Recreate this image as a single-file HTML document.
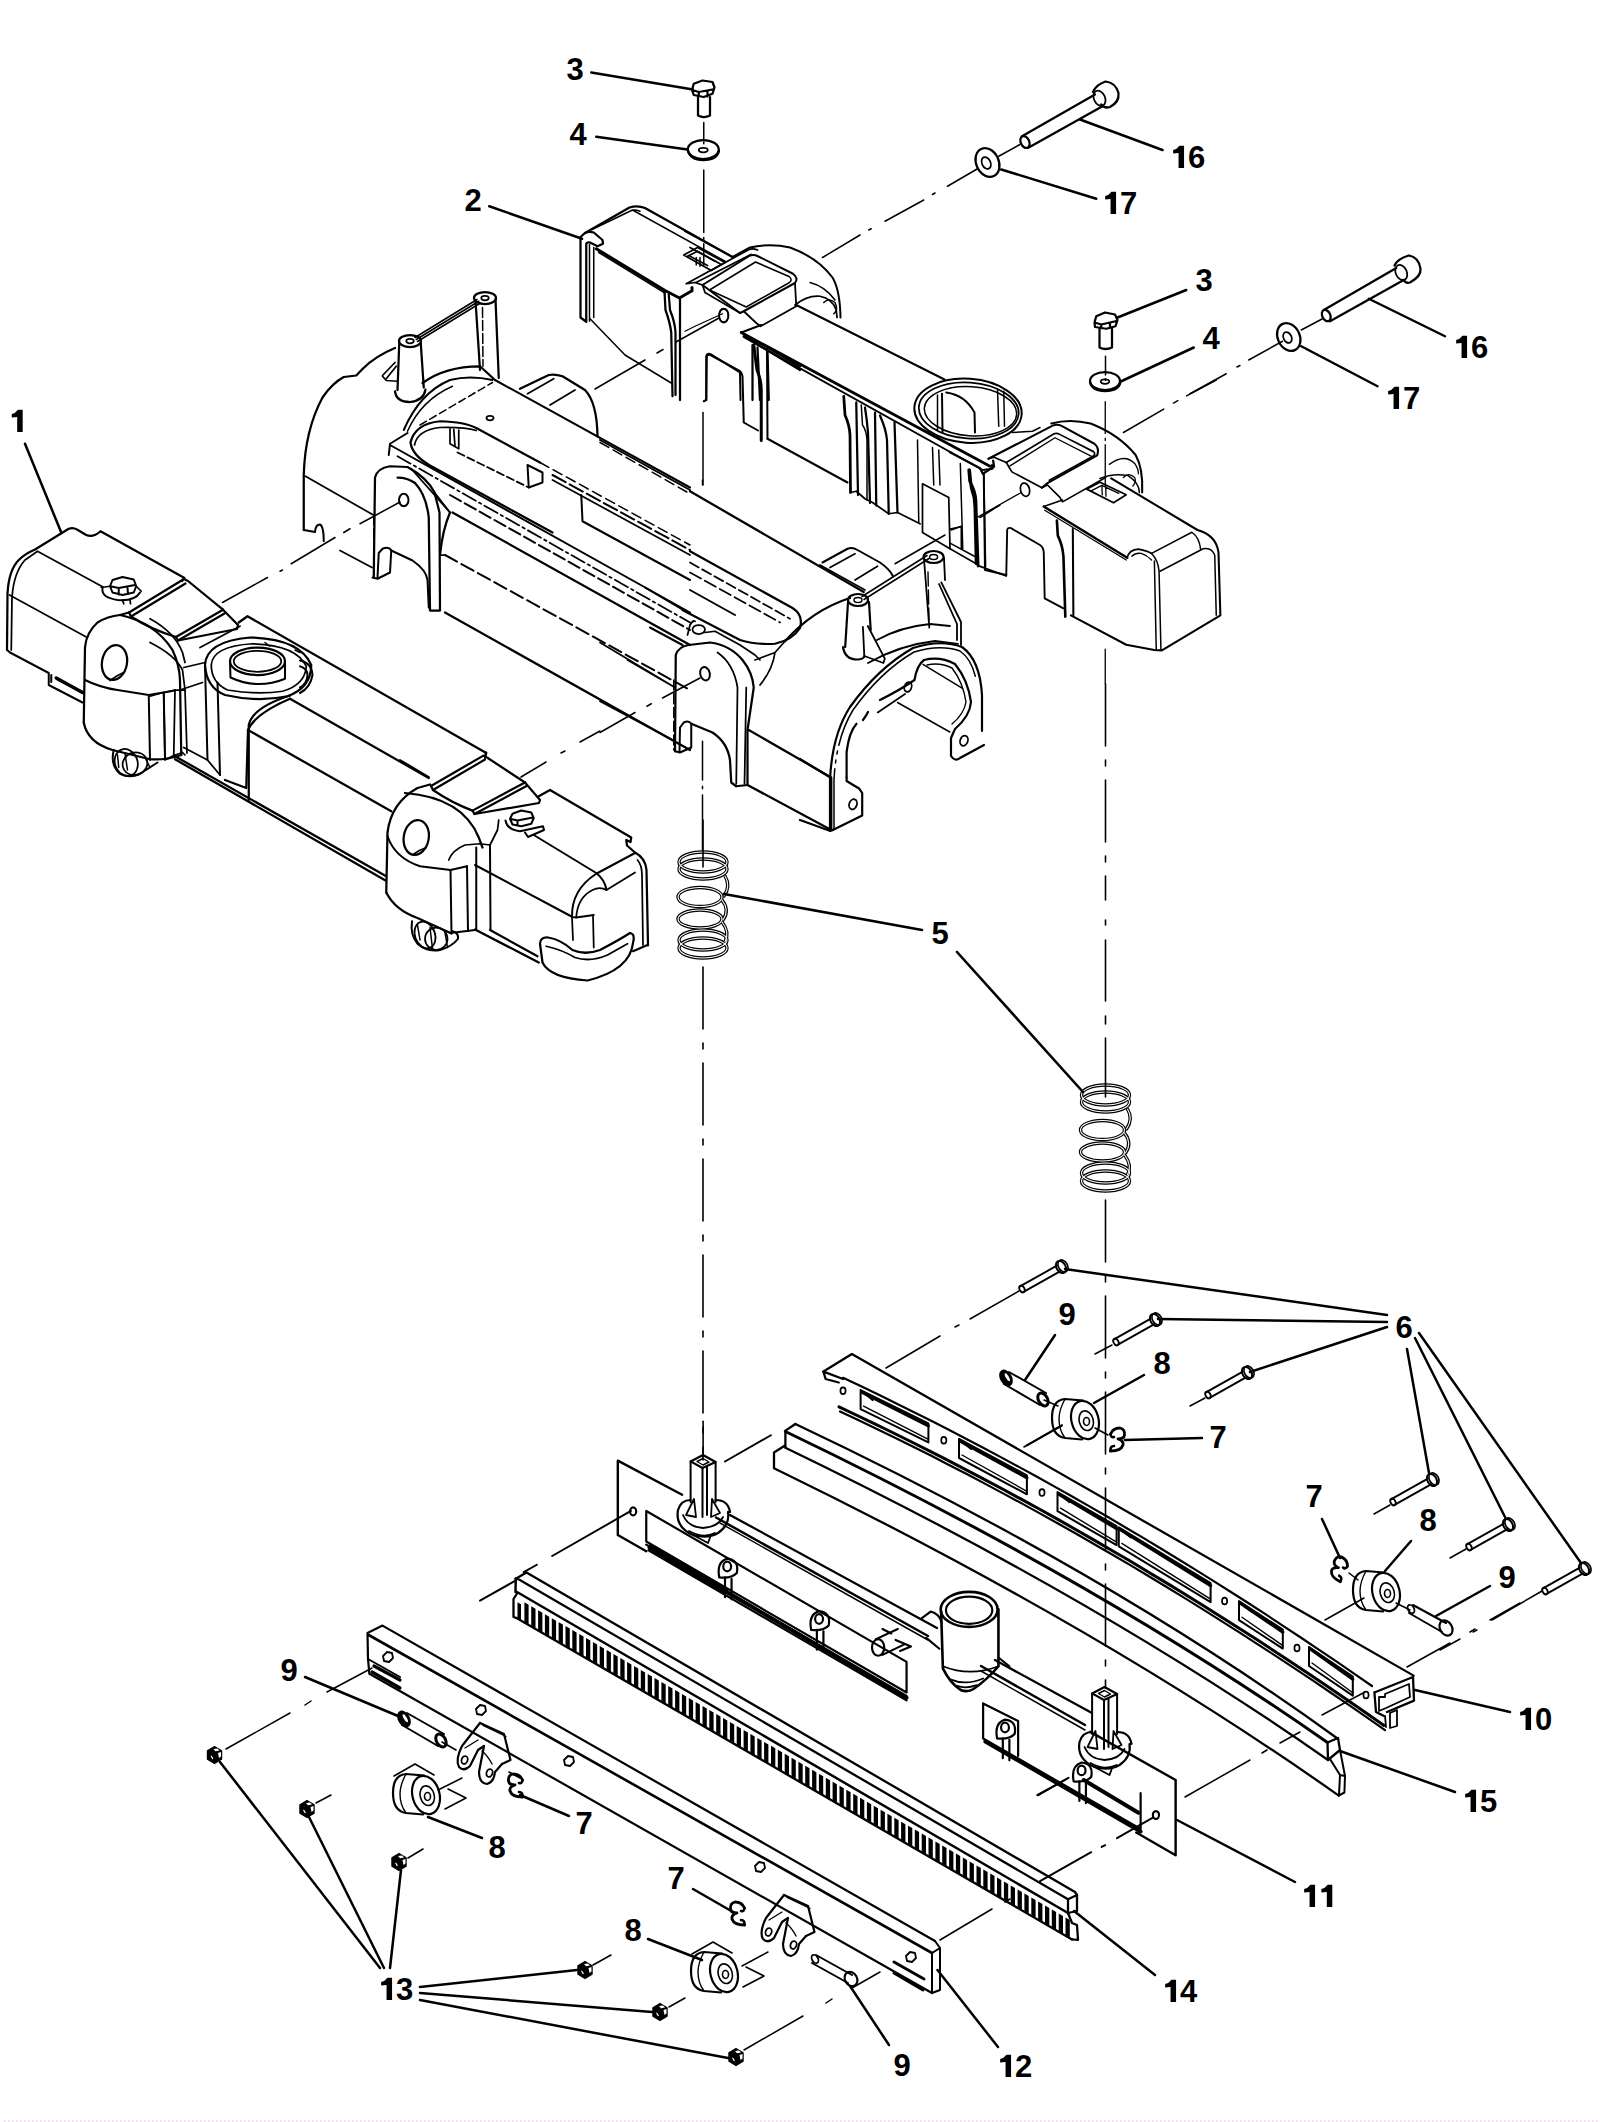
<!DOCTYPE html>
<html><head><meta charset="utf-8"><title>Parts diagram</title>
<style>
html,body{margin:0;padding:0;background:#fff;}
body{width:1600px;height:2122px;overflow:hidden;}
svg{display:block;}
.t{font-family:"Liberation Sans",sans-serif;font-weight:bold;font-size:30px;fill:#000;}
</style></head><body>
<svg width="1600" height="2122" viewBox="0 0 1600 2122" xmlns="http://www.w3.org/2000/svg">
<rect width="1600" height="2122" fill="#fff"/>
<g fill="none" stroke="#000" stroke-linejoin="round" stroke-linecap="round">
<!-- 00_labels.svg -->
<g class="t" stroke="none" fill="#000">
<text x="566.38" y="80.0" style="font-size:31px">3</text>
<text x="569.38" y="145.0" style="font-size:31px">4</text>
<text x="464.38" y="211.0" style="font-size:31px">2</text>
<path d="M1173.16,150.00 L1176.16,149.00 L1179.41,145.80 L1184.06,145.80 L1184.06,168.00 L1178.56,168.00 L1178.56,153.00 L1173.16,153.40 Z"/>
<text x="1188.00" y="168.0" style="font-size:31px">6</text>
<path d="M1105.16,196.00 L1108.16,195.00 L1111.41,191.80 L1116.06,191.80 L1116.06,214.00 L1110.56,214.00 L1110.56,199.00 L1105.16,199.40 Z"/>
<text x="1120.00" y="214.0" style="font-size:31px">7</text>
<text x="1195.38" y="291.0" style="font-size:31px">3</text>
<text x="1202.38" y="349.0" style="font-size:31px">4</text>
<path d="M1456.16,340.00 L1459.16,339.00 L1462.41,335.80 L1467.06,335.80 L1467.06,358.00 L1461.56,358.00 L1461.56,343.00 L1456.16,343.40 Z"/>
<text x="1471.00" y="358.0" style="font-size:31px">6</text>
<path d="M1388.16,391.00 L1391.16,390.00 L1394.41,386.80 L1399.06,386.80 L1399.06,409.00 L1393.56,409.00 L1393.56,394.00 L1388.16,394.40 Z"/>
<text x="1403.00" y="409.0" style="font-size:31px">7</text>
<path d="M11.78,414.00 L14.78,413.00 L18.03,409.80 L22.68,409.80 L22.68,432.00 L17.18,432.00 L17.18,417.00 L11.78,417.40 Z"/>
<text x="931.38" y="944.0" style="font-size:31px">5</text>
<text x="1058.38" y="1325.0" style="font-size:31px">9</text>
<text x="1153.38" y="1374.0" style="font-size:31px">8</text>
<text x="1209.38" y="1448.0" style="font-size:31px">7</text>
<text x="1305.38" y="1507.0" style="font-size:31px">7</text>
<text x="1419.38" y="1531.0" style="font-size:31px">8</text>
<text x="1498.38" y="1588.0" style="font-size:31px">9</text>
<path d="M1520.16,1712.00 L1523.16,1711.00 L1526.41,1707.80 L1531.06,1707.80 L1531.06,1730.00 L1525.56,1730.00 L1525.56,1715.00 L1520.16,1715.40 Z"/>
<text x="1535.00" y="1730.0" style="font-size:31px">0</text>
<text x="280.38" y="1681.0" style="font-size:31px">9</text>
<path d="M1465.16,1794.00 L1468.16,1793.00 L1471.41,1789.80 L1476.06,1789.80 L1476.06,1812.00 L1470.56,1812.00 L1470.56,1797.00 L1465.16,1797.40 Z"/>
<text x="1480.00" y="1812.0" style="font-size:31px">5</text>
<text x="575.38" y="1834.0" style="font-size:31px">7</text>
<text x="488.38" y="1858.0" style="font-size:31px">8</text>
<path d="M1304.16,1889.00 L1307.16,1888.00 L1310.41,1884.80 L1315.06,1884.80 L1315.06,1907.00 L1309.56,1907.00 L1309.56,1892.00 L1304.16,1892.40 Z"/>
<path d="M1321.40,1889.00 L1324.40,1888.00 L1327.65,1884.80 L1332.30,1884.80 L1332.30,1907.00 L1326.80,1907.00 L1326.80,1892.00 L1321.40,1892.40 Z"/>
<text x="667.38" y="1889.0" style="font-size:31px">7</text>
<text x="624.38" y="1941.0" style="font-size:31px">8</text>
<path d="M381.16,1982.00 L384.16,1981.00 L387.41,1977.80 L392.06,1977.80 L392.06,2000.00 L386.56,2000.00 L386.56,1985.00 L381.16,1985.40 Z"/>
<text x="396.00" y="2000.0" style="font-size:31px">3</text>
<path d="M1165.16,1984.00 L1168.16,1983.00 L1171.41,1979.80 L1176.06,1979.80 L1176.06,2002.00 L1170.56,2002.00 L1170.56,1987.00 L1165.16,1987.40 Z"/>
<text x="1180.00" y="2002.0" style="font-size:31px">4</text>
<text x="893.38" y="2076.0" style="font-size:31px">9</text>
<path d="M1000.16,2059.00 L1003.16,2058.00 L1006.41,2054.80 L1011.06,2054.80 L1011.06,2077.00 L1005.56,2077.00 L1005.56,2062.00 L1000.16,2062.40 Z"/>
<text x="1015.00" y="2077.0" style="font-size:31px">2</text>
<text x="1395.38" y="1338.0" style="font-size:31px">6</text>
</g>
<!-- bar11.svg -->
<g stroke-width="2.3">
<path d="M730,1515 L937,1628 M995,1660 L1092,1713"/>
<path d="M716,1517.5 L928,1636 M981,1666 L1085,1725" stroke-width="2.5"/>
<path d="M720,1523 L928,1640 M981,1671 L1085,1730" stroke-width="1.5"/>
</g>

<!-- comb.svg -->
<g stroke-width="2.3">
<path d="M515.75,1578.75 L526.5,1572.5 L1075.0,1892.0 L1077.0,1895.0"/>
<path d="M515.75,1578.75 L519,1579.5 L1068.0,1899.3"/>
<path d="M515.75,1578.75 L515.5,1592 L517,1592 L1068.0,1913.0" stroke-width="2.5"/>
<path d="M1068,1899.3 L1077,1895.0 L1077,1911.0 L1068,1913.0 Z"/>
<path d="M517,1593.5 L513.5,1599 L513.5,1617 L516.5,1618"/>
<path d="M516.5,1618 L1072.0,1939.4"/>
<path d="M1068,1913.0 L1072,1923.0 L1077,1925.0 L1078,1939.8 L1072,1939.4"/>
<path d="M517.5,1602.2 L521.0,1604.2 L521.0,1620.1 L517.5,1618.1 Z M524.4,1602.2 L528.6,1604.7 L528.6,1624.5 L524.4,1622.0 Z M531.2,1606.2 L535.5,1608.7 L535.5,1628.5 L531.2,1626.0 Z M538.1,1610.2 L542.4,1612.7 L542.4,1632.5 L538.1,1630.0 Z M544.9,1614.2 L549.2,1616.7 L549.2,1636.4 L544.9,1633.9 Z M551.8,1618.2 L556.1,1620.7 L556.1,1640.4 L551.8,1637.9 Z M558.6,1622.2 L562.9,1624.6 L562.9,1644.3 L558.6,1641.9 Z M565.5,1626.1 L569.8,1628.6 L569.8,1648.3 L565.5,1645.8 Z M572.3,1630.1 L576.6,1632.6 L576.6,1652.3 L572.3,1649.8 Z M579.2,1634.1 L583.5,1636.6 L583.5,1656.2 L579.2,1653.7 Z M586.0,1638.1 L590.3,1640.6 L590.3,1660.2 L586.0,1657.7 Z M592.9,1642.1 L597.2,1644.6 L597.2,1664.2 L592.9,1661.7 Z M599.7,1646.1 L604.0,1648.6 L604.0,1668.1 L599.7,1665.6 Z M606.6,1650.1 L610.9,1652.6 L610.9,1672.1 L606.6,1669.6 Z M613.4,1654.1 L617.7,1656.6 L617.7,1676.0 L613.4,1673.6 Z M620.3,1658.1 L624.6,1660.6 L624.6,1680.0 L620.3,1677.5 Z M627.1,1662.1 L631.4,1664.5 L631.4,1684.0 L627.1,1681.5 Z M634.0,1666.0 L638.3,1668.5 L638.3,1687.9 L634.0,1685.4 Z M640.8,1670.0 L645.1,1672.5 L645.1,1691.9 L640.8,1689.4 Z M647.7,1674.0 L652.0,1676.5 L652.0,1695.9 L647.7,1693.4 Z M654.5,1678.0 L658.8,1680.5 L658.8,1699.8 L654.5,1697.3 Z M661.4,1682.0 L665.7,1684.5 L665.7,1703.8 L661.4,1701.3 Z M668.2,1686.0 L672.5,1688.5 L672.5,1707.7 L668.2,1705.3 Z M675.1,1690.0 L679.4,1692.5 L679.4,1711.7 L675.1,1709.2 Z M681.9,1694.0 L686.2,1696.5 L686.2,1715.7 L681.9,1713.2 Z M688.8,1698.0 L693.1,1700.5 L693.1,1719.6 L688.8,1717.1 Z M695.6,1702.0 L699.9,1704.5 L699.9,1723.6 L695.6,1721.1 Z M702.5,1705.9 L706.8,1708.4 L706.8,1727.6 L702.5,1725.1 Z M709.3,1709.9 L713.6,1712.4 L713.6,1731.5 L709.3,1729.0 Z M716.2,1713.9 L720.5,1716.4 L720.5,1735.5 L716.2,1733.0 Z M723.0,1717.9 L727.3,1720.4 L727.3,1739.4 L723.0,1737.0 Z M729.9,1721.9 L734.2,1724.4 L734.2,1743.4 L729.9,1740.9 Z M736.7,1725.9 L741.0,1728.4 L741.0,1747.4 L736.7,1744.9 Z M743.6,1729.9 L747.9,1732.4 L747.9,1751.3 L743.6,1748.8 Z M750.4,1733.9 L754.7,1736.4 L754.7,1755.3 L750.4,1752.8 Z M757.3,1737.9 L761.6,1740.4 L761.6,1759.3 L757.3,1756.8 Z M764.1,1741.9 L768.4,1744.4 L768.4,1763.2 L764.1,1760.7 Z M771.0,1745.8 L775.3,1748.3 L775.3,1767.2 L771.0,1764.7 Z M777.8,1749.8 L782.1,1752.3 L782.1,1771.1 L777.8,1768.7 Z M784.7,1753.8 L789.0,1756.3 L789.0,1775.1 L784.7,1772.6 Z M791.5,1757.8 L795.8,1760.3 L795.8,1779.1 L791.5,1776.6 Z M798.4,1761.8 L802.7,1764.3 L802.7,1783.0 L798.4,1780.6 Z M805.2,1765.8 L809.5,1768.3 L809.5,1787.0 L805.2,1784.5 Z M812.1,1769.8 L816.4,1772.3 L816.4,1791.0 L812.1,1788.5 Z M818.9,1773.8 L823.2,1776.3 L823.2,1794.9 L818.9,1792.4 Z M825.8,1777.8 L830.1,1780.3 L830.1,1798.9 L825.8,1796.4 Z M832.6,1781.8 L836.9,1784.3 L836.9,1802.9 L832.6,1800.4 Z M839.5,1785.7 L843.8,1788.2 L843.8,1806.8 L839.5,1804.3 Z M846.3,1789.7 L850.6,1792.2 L850.6,1810.8 L846.3,1808.3 Z M853.2,1793.7 L857.5,1796.2 L857.5,1814.7 L853.2,1812.3 Z M860.0,1797.7 L864.3,1800.2 L864.3,1818.7 L860.0,1816.2 Z M866.9,1801.7 L871.2,1804.2 L871.2,1822.7 L866.9,1820.2 Z M873.7,1805.7 L878.0,1808.2 L878.0,1826.6 L873.7,1824.1 Z M880.6,1809.7 L884.9,1812.2 L884.9,1830.6 L880.6,1828.1 Z M887.4,1813.7 L891.7,1816.2 L891.7,1834.6 L887.4,1832.1 Z M894.3,1817.7 L898.6,1820.2 L898.6,1838.5 L894.3,1836.0 Z M901.1,1821.7 L905.4,1824.2 L905.4,1842.5 L901.1,1840.0 Z M908.0,1825.7 L912.3,1828.1 L912.3,1846.4 L908.0,1844.0 Z M914.8,1829.6 L919.1,1832.1 L919.1,1850.4 L914.8,1847.9 Z M921.7,1833.6 L926.0,1836.1 L926.0,1854.4 L921.7,1851.9 Z M928.5,1837.6 L932.8,1840.1 L932.8,1858.3 L928.5,1855.8 Z M935.4,1841.6 L939.7,1844.1 L939.7,1862.3 L935.4,1859.8 Z M942.2,1845.6 L946.5,1848.1 L946.5,1866.3 L942.2,1863.8 Z M949.1,1849.6 L953.4,1852.1 L953.4,1870.2 L949.1,1867.7 Z M955.9,1853.6 L960.2,1856.1 L960.2,1874.2 L955.9,1871.7 Z M962.8,1857.6 L967.1,1860.1 L967.1,1878.1 L962.8,1875.7 Z M969.6,1861.6 L973.9,1864.1 L973.9,1882.1 L969.6,1879.6 Z M976.5,1865.6 L980.8,1868.0 L980.8,1886.1 L976.5,1883.6 Z M983.3,1869.5 L987.6,1872.0 L987.6,1890.0 L983.3,1887.5 Z M990.2,1873.5 L994.5,1876.0 L994.5,1894.0 L990.2,1891.5 Z M997.0,1877.5 L1001.3,1880.0 L1001.3,1898.0 L997.0,1895.5 Z M1003.9,1881.5 L1008.2,1884.0 L1008.2,1901.9 L1003.9,1899.4 Z M1010.7,1885.5 L1015.0,1888.0 L1015.0,1905.9 L1010.7,1903.4 Z M1017.6,1889.5 L1021.9,1892.0 L1021.9,1909.8 L1017.6,1907.4 Z M1024.4,1893.5 L1028.7,1896.0 L1028.7,1913.8 L1024.4,1911.3 Z M1031.3,1897.5 L1035.6,1900.0 L1035.6,1917.8 L1031.3,1915.3 Z M1038.1,1901.5 L1042.4,1904.0 L1042.4,1921.7 L1038.1,1919.2 Z M1045.0,1905.5 L1049.3,1907.9 L1049.3,1925.7 L1045.0,1923.2 Z M1051.8,1909.4 L1056.1,1911.9 L1056.1,1929.7 L1051.8,1927.2 Z M1058.7,1913.4 L1063.0,1915.9 L1063.0,1933.6 L1058.7,1931.1 Z M1065.5,1917.4 L1069.8,1919.9 L1069.8,1937.6 L1065.5,1935.1 Z" fill="#000" stroke="none"/>
</g>
<!-- dplate.svg -->
<g stroke-width="2.2">
<!-- outer C arc (double) -->
<path d="M830,831 L830,780 Q832,735 850,707 Q878,668 913,648 Q940,639 962,647 Q980,660 982,695 L982,731"/>
<path d="M834,829 L834,780 Q836,738 853,710 Q880,672 914,652 Q940,644 960,651 Q976,662 978,695 L978,729" stroke-width="1.5" stroke-dasharray="60 6 3 6 3 6 200"/>
<!-- inner cutout -->
<path d="M846.6,777.5 L846.6,752 Q849,732 856.5,723.7"/>
<path d="M863,720 Q866,716 868,712 M880,700 Q900,690 914.5,680 Q917,665 924,660 Q940,656 955,664 Q968,680 971,702 Q970,716 955,729 L951,738 L951,756 Q955,762 960,758 L984,745"/>
<path d="M927,665 Q940,662 952,668 Q963,682 966,702 Q964,714 952,724" stroke-width="1.4"/>
<!-- left tab -->
<path d="M846.6,777.5 L846.6,781 L859.4,788.8 L862.2,793 L862.2,815.6 L831.8,830.4"/>
<ellipse cx="853" cy="804.3" rx="3.8" ry="5.2" transform="rotate(20 853 804.3)" stroke-width="1.8"/>
<ellipse cx="964" cy="740.7" rx="3.8" ry="5.2" transform="rotate(20 964 740.7)" stroke-width="1.8"/>
<ellipse cx="908" cy="687" rx="3.5" ry="5" transform="rotate(20 908 687)" stroke-width="1.8"/>
<path d="M905,694 L877.7,712.4" stroke-width="1.8"/>
<path d="M897.5,702.5 L949.8,732 M923,664.4 L962.5,688.4" stroke-width="1.5"/>
<!-- top band arcs -->
<path d="M877,640 Q900,627 930,624 L950,626 M868,663 Q900,645 935,641 L958,644" stroke-width="1.8"/>
<!-- posts -->
<ellipse cx="858" cy="600" rx="10" ry="6"/>
<ellipse cx="858" cy="600" rx="4" ry="2.5" stroke-width="1.4"/>
<path d="M848,602 L845.2,647 M869,602 L870.7,630 M843,647 Q845,660 858,659.5 Q864,659 864.3,656" />
<path d="M862.9,627 L864.3,656 L883.4,663 L884.8,658.7 L867.8,626" stroke-width="1.8"/>
<ellipse cx="933.6" cy="557" rx="10" ry="6"/>
<ellipse cx="933.6" cy="557" rx="4" ry="2.5" stroke-width="1.4"/>
<path d="M924,559 L929.3,627.6 M944,558 L945,580 M941.3,582.4 L961,622 L961,645 M939,584 L957,624 L957,640" stroke-width="1.8"/>
<path d="M928,572 L929,620" stroke-width="1.4" stroke-dasharray="14 4"/>
<path d="M862,596.5 L927,555.5 M864,599.5 L929,558.5" stroke-width="1.5"/>
<!-- frame side bottom -->
<path d="M800,759 L830.4,777.5 M800,820 L830.4,831" />
</g>

<!-- lowsmall.svg -->
<defs>
<g id="nut"><polygon points="0.0,-8.6 7.1,-4.3 7.1,4.3 0.0,8.6 -7.1,4.3 -7.1,-4.3" fill="#000" stroke="#000" stroke-width="1.2"/><path d="M-1,-6 L3,-6.5 L5,-4.5 L1,-3.8 Z M3.5,-2 L6.5,-3 L6.5,1.5 L4.5,3 Z" fill="#fff" stroke="none"/><path d="M-3.2,1.2 L-1.8,3.6" stroke="#fff" stroke-width="1.2"/></g>
<g id="roller"><path d="M-2,-19.5 L-20,-21 Q-33,-20 -33,-2 Q-33,16 -20,18 L-3,19.5" stroke-width="2.2"/><path d="M-20,-21 Q-26,-10 -26,-1 Q-26,10 -20,18" stroke-width="1.4"/><ellipse cx="0" cy="0" rx="13.5" ry="19.5" transform="rotate(-15)" stroke-width="2.2"/><ellipse cx="1" cy="1" rx="7" ry="10" transform="rotate(-15)" stroke-width="1.6"/><ellipse cx="1.5" cy="1.5" rx="3" ry="4" stroke-width="1.6"/></g>
<g id="clip"><path d="M-6.5,-6 Q-4,-12 3,-12 Q8,-11 7.5,-5 Q7,-1 1,-1 Q7,1 6,5 Q4,11 -6.5,11" stroke-width="2.8"/><path d="M-6.5,-6 Q-6,-2 -3,-3 M-6.5,11 Q-7,6 -3,6" stroke-width="2.6"/></g>
<g id="tag"><path d="M-32,-19 L-11,-31 L8,-20 M22,-6 L40,3 L19,14" stroke-width="1.6"/></g>
<g id="clevis"><path d="M-6,-19 L18,-8 L24.5,18 L16,22" stroke-width="2.2"/><path d="M-3,-16.5 L20,-5.5" stroke-width="1.3"/><path d="M-6,-19 L-24,4 Q-31,18 -27,25 Q-22,30 -16,24 L-8,8 L-2,4" stroke-width="2.2"/><path d="M-2,4 L-7,30 Q-7,41 1,42 Q8,40 9,30 L16,22" stroke-width="2.2"/><path d="M-21,6 L-8,-2 M-4,9 Q2,14 6,22" stroke-width="1.4"/><ellipse cx="-21.4" cy="18" rx="3" ry="4" transform="rotate(20 -21.4 18)" stroke-width="1.8"/><ellipse cx="3.5" cy="31" rx="3" ry="4" transform="rotate(20 3.5 31)" stroke-width="1.8"/></g>
<g id="pin9"><ellipse cx="0" cy="0" rx="5" ry="8" transform="rotate(-30)" fill="#000" stroke-width="2"/><ellipse cx="1.5" cy="0" rx="1.5" ry="4.5" transform="rotate(-30)" fill="#fff" stroke="none"/><path d="M3,-6 L40,15 M-2,6 L34,27" stroke-width="2"/><ellipse cx="37" cy="21.5" rx="4.5" ry="7" transform="rotate(-30 37 21.5)" stroke-width="3"/></g>
</defs>
<use href="#nut" x="214.5" y="1755"/>
<use href="#nut" x="307" y="1809"/>
<use href="#nut" x="399" y="1862"/>
<use href="#nut" x="585" y="1970"/>
<use href="#nut" x="660" y="2012"/>
<use href="#nut" x="736" y="2057"/>
<path d="M380,1968 L220,1762 M384,1968 L309,1817 M390,1968 L401,1870 M420,1987 L577,1970 M420,1993 L652,2012 M420,2000 L728,2058" stroke-width="2.5"/>
<path d="M226,1749 L290,1713 M305,1705 L311,1701 M327,1692 L372,1668 M316,1803 L331,1795 M408,1858 L423,1849 M593,1965 L611,1955 M669,2007 L685,1998 M744,2050 L803,2016 M826,2003 L832,1999 M852,1988 L880,1972" stroke-width="1.5"/>
<path d="M367.5,1633 L382.5,1625.6 L935,1941 M367.5,1633 L368,1659 L369.4,1673.8 L932,1993" stroke-width="2.2"/>
<path d="M368.7,1635 L932,1953" stroke-width="2.6"/>
<path d="M932,1953 L940,1948 L940,1990 L932,1993 Z M935,1941 L940,1948" stroke-width="2"/>
<path d="M368,1659 L400,1677" stroke-width="2"/>
<path d="M372,1672 L400,1688 M374,1666 L400,1680" stroke-width="3.2"/>
<path d="M894,1962 L924,1979 M894,1973 L923,1990" stroke-width="3"/>
<path d="M383.0,1656.0 l4,-4 l5,1 l1,5 l-4,4 l-5,-1 Z" stroke-width="1.8"/>
<path d="M476.0,1709.0 l4,-4 l5,1 l1,5 l-4,4 l-5,-1 Z" stroke-width="1.8"/>
<path d="M564.0,1760.0 l4,-4 l5,1 l1,5 l-4,4 l-5,-1 Z" stroke-width="1.8"/>
<path d="M755.0,1866.0 l4,-4 l5,1 l1,5 l-4,4 l-5,-1 Z" stroke-width="1.8"/>
<path d="M906.0,1956.0 l4,-4 l5,1 l1,5 l-4,4 l-5,-1 Z" stroke-width="1.8"/>
<use href="#clevis" x="486" y="1742"/>
<use href="#pin9" x="404" y="1719"/>
<path d="M442,1742 L456,1750 M520,1778 L509,1772" stroke-width="1.6"/>
<use href="#tag" x="426" y="1795"/><use href="#roller" x="426" y="1795"/>
<use href="#clip" transform="translate(516,1786) scale(-1,1)"/>
<path d="M305,1677 L398,1716 M520,1795 L569,1816 M428,1817 L482,1838" stroke-width="2.5"/>
<path d="M438,1790 L462,1778" stroke-width="1.5"/>
<use href="#clevis" x="790" y="1914"/>
<use href="#tag" x="724" y="1973"/><use href="#roller" x="724" y="1973"/>
<use href="#clip" transform="translate(738,1914) scale(-1,1)"/>
<path d="M693,1889 L733,1912 M648,1939 L702,1960" stroke-width="2.5"/>
<path d="M742,1966 L768,1952" stroke-width="1.5"/>
<path d="M816,1955 L852,1975 M812,1963 L848,1983" stroke-width="2"/><ellipse cx="815" cy="1959" rx="3" ry="4.5" transform="rotate(-30 815 1959)" stroke-width="1.8"/><ellipse cx="851" cy="1979" rx="6" ry="7.5" transform="rotate(-30 851 1979)" stroke-width="2.2"/>
<path d="M850,1986 L889,2045 M937.5,1970 L998,2047 M1074,1911 L1155,1975 M1177,1820 L1295,1882 M1340,1751 L1455,1792 M1415,1690 L1510,1712" stroke-width="2.5"/>
<path d="M940,1940 L992,1909 M1005,1902 L1010,1899 M1185,1797 L1250,1760 M1262,1753 L1267,1750 M1280,1743 L1300,1732 M1322,1715 L1365,1692 M1407,1667 L1450,1643 M1470,1632 L1475,1629 M1490,1620 L1520,1603" stroke-width="1.5"/>
<path d="M1037,1795 L1065,1780" stroke-width="1.5"/>
<!-- p10.svg -->
<g transform="translate(760,1330) scale(0.4375)" stroke-width="5.2">
<path d="M145,95 L210,55 L1494,790"/>
<path d="M145,95 L150,112 L180,120 M145,95 L190,112"/>
</g>
<!-- p10web.svg -->
<g stroke-width="2.2">
<path d="M843.0,1377.8 L860.6,1386.1 L878.3,1394.6 L895.9,1403.2 L913.5,1411.9 L931.2,1420.8 L948.8,1429.8 L966.4,1438.9 L984.1,1448.2 L1001.7,1457.6 L1019.3,1467.1 L1037.0,1476.8 L1054.6,1486.6 L1072.2,1496.5 L1089.9,1506.6 L1107.5,1516.8 L1125.1,1527.2 L1142.8,1537.6 L1160.4,1548.2 L1178.0,1559.0 L1195.7,1569.9 L1213.3,1580.9 L1230.9,1592.0 L1248.6,1603.3 L1266.2,1614.7 L1283.8,1626.3 L1301.5,1638.0 L1319.1,1649.8 L1336.7,1661.7 L1354.4,1673.8 L1372.0,1686.0"/>
<path d="M839.0,1406.9 L857.2,1415.5 L875.3,1424.2 L893.5,1433.0 L911.7,1442.0 L929.8,1451.1 L948.0,1460.4 L966.2,1469.8 L984.3,1479.3 L1002.5,1489.0 L1020.7,1498.9 L1038.8,1508.8 L1057.0,1518.9 L1075.2,1529.2 L1093.3,1539.6 L1111.5,1550.2 L1129.7,1560.8 L1147.8,1571.7 L1166.0,1582.6 L1184.2,1593.8 L1202.3,1605.0 L1220.5,1616.4 L1238.7,1628.0 L1256.8,1639.6 L1275.0,1651.5 L1293.2,1663.4 L1311.3,1675.6 L1329.5,1687.8 L1347.7,1700.2 L1365.8,1712.8 L1384.0,1725.4" stroke-width="3"/>
<path d="M840.0,1411.4 L858.2,1420.0 L876.3,1428.7 L894.5,1437.5 L912.7,1446.5 L930.8,1455.6 L949.0,1464.9 L967.2,1474.3 L985.3,1483.9 L1003.5,1493.6 L1021.7,1503.4 L1039.8,1513.4 L1058.0,1523.5 L1076.2,1533.8 L1094.3,1544.2 L1112.5,1554.7 L1130.7,1565.4 L1148.8,1576.3 L1167.0,1587.3 L1185.2,1598.4 L1203.3,1609.6 L1221.5,1621.1 L1239.7,1632.6 L1257.8,1644.3 L1276.0,1656.1 L1294.2,1668.1 L1312.3,1680.2 L1330.5,1692.5 L1348.7,1704.9 L1366.8,1717.4 L1385.0,1730.1"/>
<path d="M860.6,1390.1 L928.4,1423.4 L928.4,1442.4 L860.6,1409.1 Z M860.6,1390.1 L872.6,1400.1" stroke-width="2"/>
<path d="M862.6,1392.6 L928.4,1425.9" stroke-width="3.2"/>
<path d="M863.6,1406.1 L928.4,1439.4" stroke-width="1.4"/>
<path d="M959.0,1439.0 L1026.9,1475.3 L1026.9,1494.3 L959.0,1458.0 Z M959.0,1439.0 L971.0,1449.0" stroke-width="2"/>
<path d="M961.0,1441.5 L1026.9,1477.8" stroke-width="3.2"/>
<path d="M962.0,1455.0 L1026.9,1491.3" stroke-width="1.4"/>
<path d="M1057.5,1492.2 L1116.6,1526.1 L1116.6,1545.1 L1057.5,1511.2 Z M1057.5,1492.2 L1069.5,1502.2" stroke-width="2"/>
<path d="M1059.5,1494.7 L1116.6,1528.6" stroke-width="3.2"/>
<path d="M1060.5,1508.2 L1116.6,1542.1" stroke-width="1.4"/>
<path d="M1118.8,1527.4 L1210.6,1583.2 L1210.6,1602.2 L1118.8,1546.4 Z M1118.8,1527.4 L1130.8,1537.4" stroke-width="2"/>
<path d="M1120.8,1529.9 L1210.6,1585.7" stroke-width="3.2"/>
<path d="M1121.8,1543.4 L1210.6,1599.2" stroke-width="1.4"/>
<path d="M1239.0,1601.2 L1282.8,1629.6 L1282.8,1648.6 L1239.0,1620.2 Z M1239.0,1601.2 L1251.0,1611.2" stroke-width="2"/>
<path d="M1241.0,1603.7 L1282.8,1632.1" stroke-width="3.2"/>
<path d="M1242.0,1617.2 L1282.8,1645.6" stroke-width="1.4"/>
<path d="M1309.0,1647.0 L1352.8,1676.7 L1352.8,1695.7 L1309.0,1666.0 Z M1309.0,1647.0 L1321.0,1657.0" stroke-width="2"/>
<path d="M1311.0,1649.5 L1352.8,1679.2" stroke-width="3.2"/>
<path d="M1312.0,1663.0 L1352.8,1692.7" stroke-width="1.4"/>
<ellipse cx="843.0" cy="1390.8" rx="2.6" ry="3.4" stroke-width="1.7"/>
<ellipse cx="943.8" cy="1440.2" rx="2.6" ry="3.4" stroke-width="1.7"/>
<ellipse cx="1042.0" cy="1492.6" rx="2.6" ry="3.4" stroke-width="1.7"/>
<ellipse cx="1224.6" cy="1601.0" rx="2.6" ry="3.4" stroke-width="1.7"/>
<ellipse cx="1297.0" cy="1648.0" rx="2.6" ry="3.4" stroke-width="1.7"/>
<ellipse cx="1366.0" cy="1694.9" rx="2.6" ry="3.4" stroke-width="1.7"/>
</g>
<!-- p11.svg -->
<g transform="translate(480,1430) scale(0.4375)" stroke-width="5.2">
<path d="M315,240 L315,70 L462,148 M315,240 L380,277 M1590,800 L1590,972 L1500,920 M1395,690 L1590,800" stroke-width="5.5"/>
<ellipse cx="350" cy="186" rx="7" ry="9" stroke-width="5"/><ellipse cx="1545" cy="880" rx="7" ry="9" stroke-width="5"/>


<path d="M380,185 L380,255 L975,600 L975,530 L380,185 Z" stroke-width="5"/>
<path d="M380,262 L975,608 M385,275 L975,618" stroke-width="5"/>
<path d="M390,268 L560,368" stroke-width="14"/>
<path d="M560,368 L975,612" stroke-width="9"/>
<path d="M1150,625 L1150,705 L1510,912 L1510,830 M1150,625 L1230,665 L1230,745" stroke-width="5"/>
<path d="M1155,712 L1510,918" stroke-width="9"/>
<path d="M1380,800 L1505,875" stroke-width="9"/>
<path d="M547,337 Q540,302 565,294 Q593,297 587,327 Q575,340 547,337" stroke-width="5"/>
<ellipse cx="565" cy="312" rx="9" ry="11" stroke-width="5"/>
<path d="M560,337 L560,382 M575,340 L575,387" stroke-width="5"/>
<path d="M757,457 Q750,422 775,414 Q803,417 797,447 Q785,460 757,457" stroke-width="5"/>
<ellipse cx="775" cy="432" rx="9" ry="11" stroke-width="5"/>
<path d="M770,457 L770,502 M785,460 L785,507" stroke-width="5"/>
<path d="M1182,705 Q1175,670 1200,662 Q1228,665 1222,695 Q1210,708 1182,705" stroke-width="5"/>
<ellipse cx="1200" cy="680" rx="9" ry="11" stroke-width="5"/>
<path d="M1195,705 L1195,750 M1210,708 L1210,755" stroke-width="5"/>
<path d="M1357,803 Q1350,768 1375,760 Q1403,763 1397,793 Q1385,806 1357,803" stroke-width="5"/>
<ellipse cx="1375" cy="778" rx="9" ry="11" stroke-width="5"/>
<path d="M1370,803 L1370,848 M1385,806 L1385,853" stroke-width="5"/>
<ellipse cx="1118" cy="410" rx="65" ry="40" stroke-width="6"/><ellipse cx="1118" cy="412" rx="53" ry="31" stroke-width="5"/>
<path d="M1054,415 L1058,545 Q1075,580 1100,595 Q1115,600 1128,592 Q1160,570 1185,540 L1185,410" stroke-width="6"/>
<path d="M1058,540 Q1120,565 1185,540 M1075,570 Q1110,585 1150,568 M1090,585 Q1112,592 1135,583" stroke-width="4"/>
<path d="M1010,430 L1030,415 Q1050,420 1055,440 M1020,475 L1050,500 M1185,520 L1210,540" stroke-width="5"/>
<ellipse cx="910" cy="497" rx="14" ry="19" stroke-width="5"/><path d="M905,478 L955,455 M920,514 L970,490 M940,465 L920,455 M950,480 L985,495 L960,505" stroke-width="5"/>

<path d="M0,390 L80,345 M100,325 L130,308 M165,288 L345,185 M560,72 L665,12 M1275,835 L1345,795 M1538,886 L1456,933 M1429,949 L1421,953 M1397,965 L1280,1031 M1250,35 L1330,-10" stroke-width="4.5"/>
<path d="M510,-20 L510,60" stroke-width="3.6"/>
</g>
<!-- p15.svg -->
<g stroke-width="2.3">
<path d="M795.4,1424 Q1107,1571.4 1337.5,1738.5"/>
<path d="M785.4,1431.5 Q1096.6,1580.9 1327.5,1742.5" stroke-width="3"/>
<path d="M785.4,1447.7 Q1096.8,1598.1 1328,1760"/>
<path d="M774,1468.2 Q1098.2,1625.8 1338.75,1795.6"/>
<path d="M1327.5,1742.5 L1338,1738 L1340,1750 L1328,1760 Z"/>
<path d="M1330,1759 L1340,1775 L1345,1776 L1344.4,1792.5 L1338.75,1795.6 M1340,1775 L1339,1795 M1340,1750 L1345,1776" stroke-width="2"/>
<path d="M785.4,1430.6 L795.4,1424 M785.4,1430.6 L785.4,1447.7 M785,1445.5 L774,1452.5 L774,1468.2"/>
<path d="M1374.4,1692.5 L1413,1677 L1414,1700.6 L1387,1712 M1374.4,1692.5 L1376,1712 L1384,1716" stroke-width="2.3"/>
<path d="M1379,1697 L1385,1697 L1385,1694 L1409,1684 L1410,1697 L1386,1708 L1379,1711 Z" stroke-width="1.8"/>
<path d="M1385,1716 L1386,1727 M1390,1713 L1397,1710 L1397,1726 L1390,1728 L1390,1713" stroke-width="1.8"/>
</g>
<!-- p1m.svg -->
<g transform="translate(150,560) scale(0.25)" stroke-width="9">
<path d="M355,250 L390,225 L1345,772 L1340,790"/>
<path d="M560,555 L1115,872"/>
<path d="M560,555 Q420,615 392,680 L385,912 L300,880"/>
<path d="M392,680 L965,1005"/>
<path d="M95,782 L945,1265 M100,797 L942,1282"/>
<path d="M95,782 L130,770 L140,780 M55,530 L60,800 L95,782 M100,520 L95,780 M140,520 L148,772" stroke-width="7"/>
<path d="M0,545 Q50,530 100,520 L140,520 M0,330 Q100,380 130,440 L140,520" stroke-width="7"/>

</g>

<!-- plates.svg -->
<g stroke-width="2.2">
<path d="M129,612.5 L184,579 L188,581 L223,609.7 M131,616.5 L185.5,583.5"/>
<path d="M129,612.5 L131,616.5 Q150,629 176,637 L223,609.7 M178,640.5 L224.5,613.5" />
<path d="M223,609.7 L238,625 L237,629 L178,640.5 L176,637" />
<path d="M431,786 L483.4,755.6 L487,757.5 L525,782.5 M433,790 L485,759.5"/>
<path d="M431,786 L433,790 Q452,803 472.5,810.6 L525,782.5 M474.5,814 L526.5,786"/>
<path d="M525,782.5 L540,800 L539,803 L474.5,814 L472.5,810.6"/>
</g>

<!-- posts.svg -->
<defs>
<g id="post">
<path d="M-12.4,6.4 L0,0 L12.6,7 L-0.5,13 Z" stroke-width="2.2"/>
<path d="M-6,6.5 L0,3.5 L6,7 L0,10 Z" stroke-width="1.4"/>
<path d="M-12.4,6.4 L-12.4,47 M-0.5,13 L-0.5,62 M12.6,7 L12.6,47 M4,11 L4,60" stroke-width="2"/>
<path d="M-25,55 Q-28,72 -10,80 Q5,84 15,78 Q27,70 25,57 M-25,55 Q-22,45 -12.4,45 M12.6,45 Q25,45 27,57" stroke-width="2.2"/>
<path d="M-20,60 Q-15,72 0,73 Q15,72 20,62" stroke-width="1.8"/>
<path d="M-10,80 L5,88 L8,80 M-14,76 Q0,84 12,78" stroke-width="1.8"/>
<path d="M-9,44 L-17,60 L-7,62 Z M9,44 L17,58 L8,62 Z" stroke-width="1.8"/>
</g>
</defs>
<use href="#post" x="703" y="1455"/>
<use href="#post" x="1104.5" y="1687"/>

<!-- rightsmall.svg -->
<defs>
<g id="pin6"><ellipse cx="0" cy="0" rx="4.5" ry="6.5" transform="rotate(-30)" stroke-width="2"/><ellipse cx="2" cy="-1" rx="4.5" ry="6.5" transform="rotate(-30 2 -1)" stroke-width="1.6"/><path d="M-1.0,4.3 L-37.4,24.8 M-4.2,-1.3 L-40.6,19.2" stroke-width="1.9"/><ellipse cx="-39.0" cy="22.0" rx="2.4" ry="3.6" transform="rotate(-30 -39.0 22.0)" stroke-width="1.8"/></g>
</defs>
<use href="#pin6" x="1061" y="1267"/>
<use href="#pin6" x="1155" y="1320"/>
<use href="#pin6" x="1247" y="1373"/>
<use href="#pin6" x="1432" y="1480"/>
<use href="#pin6" x="1508" y="1525"/>
<use href="#pin6" x="1584" y="1569"/>
<path d="M1065,1269 L1387,1315 M1158,1319 L1387,1322 M1250,1372 L1387,1327 M1407,1349 L1429,1473 M1415,1338 L1506,1519 M1419,1333 L1581,1563" stroke-width="2.5"/>
<path d="M1019,1291 L970,1319 M959,1325 L955,1327 M940,1336 L886,1368 M1112,1345 L1095,1354 M1205,1398 L1190,1406 M1390,1505 L1374,1514 M1466,1549 L1450,1558 M1542,1591 L1492,1620 M1477,1630 L1473,1632 M1460,1639 L1440,1650" stroke-width="1.5"/>
<use href="#pin9" x="1006" y="1378"/>
<path d="M1044,1400 L1058,1406 M1095,1428 L1108,1435 M1062,1425 L1024,1447" stroke-width="1.5"/>
<use href="#roller" x="1085" y="1420"/>
<use href="#clip" x="1117" y="1440"/>
<path d="M1055,1335 L1025,1380 M1144,1375 L1094,1403 M1125,1440 L1202,1438" stroke-width="2.5"/>
<use href="#roller" x="1386" y="1592"/>
<use href="#clip" transform="translate(1339,1569) scale(-1,1) rotate(-25)"/>
<path d="M1349,1573 L1358,1580 M1396,1603 L1410,1610 M1325,1620 L1364,1598" stroke-width="1.5"/>
<path d="M1322,1519 L1340,1558 M1411,1541 L1385,1571 M1490,1586 L1436,1616" stroke-width="2.5"/>
<path d="M1413,1605 L1446,1623 M1409,1613 L1442,1632" stroke-width="2"/><ellipse cx="1411" cy="1609" rx="3" ry="4.5" transform="rotate(-30 1411 1609)" stroke-width="1.8"/><ellipse cx="1446" cy="1628" rx="6" ry="8" transform="rotate(-30 1446 1628)" stroke-width="2.2"/>
<!-- springs.svg -->
<defs>
<g id="coil">
<ellipse cx="0" cy="12" rx="24" ry="10"/>
<ellipse cx="0" cy="19" rx="24" ry="10"/>
<path d="M22,26 Q28,36 21,46"/>
<ellipse cx="-3" cy="47" rx="22" ry="9.5"/>
<path d="M19,50 Q27,60 20,70"/>
<ellipse cx="-3" cy="69" rx="22" ry="9"/>
<path d="M19,72 Q27,82 22,92"/>
<ellipse cx="0" cy="90" rx="24" ry="10"/>
<ellipse cx="0" cy="98" rx="24" ry="10"/>
</g>
<g id="spring">
<use href="#coil" stroke="#000" stroke-width="3.4"/>
<use href="#coil" stroke="#fff" stroke-width="1.1"/>
</g>
</defs>
<use href="#spring" transform="translate(703,850)"/>
<use href="#spring" transform="translate(1105.5,1083)"/>
<path d="M724,894 L922,930" stroke-width="2.6"/>
<path d="M957,952 L1083,1092" stroke-width="2.6"/>
<path d="M703,820 L703,867 M703,967 L703,1460" stroke-width="1.6" stroke-dasharray="62 14 6 14"/>
<path d="M1105.5,920 L1105.5,925 M1105.5,940 L1105.5,1001 M1105.5,1016 L1105.5,1024 M1105.5,1038 L1105.5,1097" stroke-width="1.6"/>
<path d="M1105.5,684 L1105.5,900" stroke-width="1.6" stroke-dasharray="62 14 6 14"/>

<path d="M1105.5,1200 L1105.5,1688" stroke-width="1.6" stroke-dasharray="62 14 6 14"/>
<path d="M600,731 L580,742 M565,751 L561,753 M546,762 L521,777" stroke-width="1.5"/>
<path d="M719,318 L676,342 M663,349.5 L657,353 M645,360 L595,389" stroke-width="1.5"/>

<!-- t01.svg -->
<g transform="translate(0,400) scale(0.25)" stroke-width="9">
<path d="M100,175 L245,530" stroke-width="10"/>
<!-- cap -->
<path d="M28,1000 L30,775 Q35,680 75,640 Q100,615 140,598 L275,515 Q292,508 308,518 L345,540 Q372,552 402,525 L738,712 L728,724"/>
<path d="M45,1000 L48,790 Q55,690 100,640 L150,605 L412,748" stroke-width="7"/>
<path d="M38,780 L345,948" stroke-width="7"/>
<path d="M28,1000 L40,1010 L195,1092 L195,1140 L330,1210 M205,1100 L205,1128 M230,1118 L330,1168" stroke-width="8"/>
<path d="M225,1112 L330,1170" stroke-width="14"/>
<!-- bolt -->
<path d="M440,745 L450,720 L490,708 L535,718 L545,745 L535,770 L490,780 L450,770 Z M440,745 L475,752 L540,740 M475,752 L475,778 M510,750 L512,776" stroke-width="8"/>
<path d="M410,755 Q405,790 470,800 Q540,805 560,770" stroke-width="8"/>
<path d="M405,750 L440,745 M545,745 L565,765" stroke-width="7"/>
<path d="M490,800 L495,815 M520,800 L522,815" stroke-width="7"/>
<!-- hinge block -->
<path d="M335,1290 L340,990 Q345,930 390,890 Q430,865 480,860 L515,850"/>
<path d="M480,860 Q620,890 690,1000 Q718,1060 720,1120 L725,1420"/>
<path d="M335,1290 Q350,1370 450,1400 L600,1437 Q660,1442 725,1420"/>
<path d="M340,1120 Q400,1150 470,1160 L595,1180 L700,1162" stroke-width="8"/>
<path d="M595,1180 L600,1440 M655,1175 L660,1436" stroke-width="8"/>
<path d="M600,875 Q700,930 730,1010 L740,1050" stroke-width="7"/>
<ellipse cx="458" cy="1050" rx="50" ry="70" transform="rotate(10 458 1050)"/>
<path d="M440,1122 Q470,1100 495,1090" stroke-width="7"/>
<!-- long bar -->
<path d="M800,990 L960,905" stroke-width="7"/>
<path d="M735,1070 L820,1050 M720,1160 L810,1130" stroke-width="7"/>
<!-- cup -->
<path d="M820,1060 Q825,965 1000,950 Q1200,955 1245,1060 Q1245,1150 1150,1185 Q1030,1210 900,1180 Q825,1150 820,1060 Z"/>
<path d="M845,1060 Q850,985 1010,975 Q1185,980 1225,1065 Q1220,1140 1130,1165 Q1030,1180 910,1160 Q845,1130 845,1060 Z" stroke-width="7"/>
<ellipse cx="1030" cy="1045" rx="110" ry="55"/>
<ellipse cx="1030" cy="1045" rx="95" ry="42" stroke-width="7"/>
<path d="M920,1050 L922,1110 Q1030,1160 1140,1115 L1140,1050" stroke-width="8"/>
<path d="M1060,970 L1080,985 M1180,1000 L1200,1010" stroke-width="6"/>
<path d="M820,1060 L830,1440 M870,1130 L880,1500" stroke-width="8"/>
<path d="M1160,1182 Q1010,1230 995,1300 L995,1600" stroke-width="9"/>
<path d="M735,1390 L830,1440 L880,1500" stroke-width="7"/>
<!-- dash-dot -->
<path d="M890,810 L1070,710 M1120,685 L1130,680" stroke-width="6"/>
<!-- roller -->
<path d="M455,1400 Q440,1460 480,1495 Q520,1515 560,1495 Q600,1470 630,1450" stroke-width="8"/>
<ellipse cx="505" cy="1450" rx="45" ry="55" transform="rotate(-20 505 1450)" stroke-width="7"/>
<ellipse cx="540" cy="1455" rx="50" ry="45" transform="rotate(-20 540 1455)" stroke-width="7"/>
<path d="M470,1420 L475,1470 M500,1415 L510,1480 M580,1430 L600,1470" stroke-width="6"/>
</g>

<!-- t02.svg -->
<g transform="translate(300,640) scale(0.25)" stroke-width="9">
<path d="M740,450 L745,450 L740,470" stroke-width="8"/>
<path d="M400,480 L515,548" stroke-width="8"/>
<!-- hinge block -->
<path d="M345,1010 L350,770 Q365,650 470,592 L520,578"/>
<path d="M420,612 Q650,630 715,790 L730,830"/>
<path d="M350,785 Q380,872 480,905 L602,920 L668,905" stroke-width="8"/>
<path d="M602,920 L606,1175 M668,905 L672,1165 M705,830 L705,1160 M760,820 L762,1158" stroke-width="8"/>
<path d="M345,1010 Q380,1080 470,1112 L602,1172 L700,1160" />
<ellipse cx="465" cy="790" rx="50" ry="70" transform="rotate(10 465 790)"/>
<path d="M450,860 Q475,840 505,830" stroke-width="7"/>
<path d="M595,880 Q610,840 660,820 L720,815 L760,820 L790,760 L795,720" stroke-width="7"/>
<!-- bolt -->
<path d="M840,715 L850,695 L885,682 L925,690 L935,712 L925,735 L885,745 L850,738 Z M840,715 L870,722 L932,710 M870,722 L870,742" stroke-width="8"/>
<path d="M822,722 Q828,758 880,765 L972,745 L976,760 L912,788 L900,770" stroke-width="8"/>
<!-- right end box -->
<path d="M955,625 L1000,600 L1325,790 L1322,808 L1305,800 L1308,822 L1340,850 Q1382,872 1386,920 L1392,1222"/>
<path d="M1350,880 Q1368,900 1368,940 L1372,1220" stroke-width="7"/>
<path d="M935,780 L1185,932 Q1220,960 1226,1000" stroke-width="8"/>
<path d="M1088,1108 Q1085,1000 1185,935 L1340,852" stroke-width="8"/>
<path d="M1105,1110 Q1110,1030 1170,1000 Q1200,985 1226,1000 L1340,930" stroke-width="7"/>
<path d="M700,900 L1090,1108 L1105,1110 L1175,1100" stroke-width="8"/>
<path d="M700,1158 L955,1290 M760,1160 L950,1265" stroke-width="9"/>
<path d="M1088,1108 L1092,1200 M1172,1100 L1175,1230" stroke-width="7"/>
<!-- handle -->
<path d="M960,1215 Q960,1188 992,1190 Q1040,1196 1090,1240 Q1140,1262 1200,1240 Q1280,1198 1320,1172 Q1342,1176 1332,1212 Q1320,1320 1150,1362 Q1000,1352 970,1290 Z"/>
<path d="M985,1225 Q1050,1240 1100,1270 Q1160,1290 1230,1260 L1310,1215" stroke-width="7"/>
<path d="M1390,1220 L1332,1245" stroke-width="8"/>
<!-- roller -->
<path d="M448,1125 Q440,1180 470,1215 Q510,1250 560,1240 Q610,1225 632,1195 Q635,1170 610,1165" stroke-width="8"/>
<ellipse cx="500" cy="1180" rx="40" ry="55" transform="rotate(-20 500 1180)" stroke-width="7"/>
<ellipse cx="545" cy="1195" rx="45" ry="45" stroke-width="7"/>
<path d="M470,1140 L480,1200 M520,1150 L530,1235 M580,1170 L590,1230" stroke-width="6"/>
<!-- cup ring remnant -->
<path d="M0,82 Q48,92 50,140 Q42,190 0,212 M0,105 Q30,115 30,140 Q28,175 0,190" stroke-width="8"/>
</g>

<!-- t10.svg -->
<g transform="translate(400,0) scale(0.25)" stroke-width="9">
<!-- leaders -->
<path d="M765,290 L1172,358" stroke-width="10"/>
<path d="M785,547 L1150,598" stroke-width="10"/>
<path d="M357,825 L728,955" stroke-width="10"/>
<!-- bolt 3 -->
<path d="M1168,360 L1175,335 L1210,322 L1250,328 L1258,350 L1250,375 L1215,388 L1175,380 Z M1168,360 L1195,368 L1250,358 M1195,368 L1195,384 M1230,365 L1230,386"/>
<path d="M1192,388 L1192,462 Q1215,475 1240,462 L1240,388"/>
<!-- washer 4 -->
<ellipse cx="1213" cy="598" rx="62" ry="38"/>
<path d="M1152,602 Q1160,640 1213,640 Q1270,640 1276,602"/>
<ellipse cx="1213" cy="600" rx="18" ry="9" stroke-width="7"/>
<!-- dash-dot center -->
<path d="M1215,490 L1215,555 M1215,568 L1215,575 M1215,680 L1215,930 M1215,950 L1215,958 M1215,975 L1215,1060" stroke-width="6"/>
<!-- part 2 left flange -->
<path d="M722,948 L722,1270 L745,1287 L745,975 Q748,968 760,970 L790,985 L812,975 L810,960 L775,930 Q755,925 740,932 Z"/>
<path d="M758,978 L758,1285 M775,990 L775,1270" stroke-width="6"/>
<!-- top edges -->
<path d="M740,932 L918,830 Q950,820 980,832 L1330,1028"/>
<path d="M768,918 L930,840 Q945,838 960,845 M930,840 L1300,1045" stroke-width="6"/>
<path d="M785,995 L1060,1162 L1118,1192 L1168,1163 L1168,1150" stroke-width="12"/>
<path d="M795,1010 L1060,1172" stroke-width="6"/>
<!-- rib -->
<path d="M1058,1168 L1062,1240 Q1080,1290 1085,1330 L1090,1585 M1075,1178 L1080,1240 Q1100,1290 1102,1330 L1102,1580" stroke-width="9"/>
<path d="M1120,1195 L1120,1600"/>
<!-- lower left diagonal -->
<path d="M760,1275 L900,1420 L1085,1532" stroke-width="6"/>
<ellipse cx="1295" cy="1262" rx="19" ry="28" stroke-width="7"/>
<!-- slot hole -->
<path d="M1135,1020 L1190,990 L1300,1050 L1245,1082 Z M1150,1025 L1190,1005 L1280,1055" stroke-width="7"/>
<path d="M1185,1030 L1185,1060 M1200,1030 L1200,1065" stroke-width="6"/>
<path d="M1365,1330 L1600,1465 M1375,1345 L1600,1480" stroke-width="9"/>
<path d="M1410,1380 L1410,1600 M1430,1390 L1440,1600 M1470,1405 L1475,1600" stroke-width="9"/>
<!-- cut slot -->
<path d="M1225,1600 L1225,1425 Q1228,1410 1245,1418 L1360,1490 L1362,1600" stroke-width="8"/>
</g>

<!-- t11.svg -->
<g transform="translate(290,280) scale(0.25)" stroke-width="9">
<!-- D end plate -->
<path d="M55,1000 L55,780 Q60,600 130,470 Q170,412 215,388 L265,382 L290,356 Q340,305 420,272"/>
<path d="M55,1000 L100,1008 Q102,978 120,978 Q135,985 135,1045" stroke-width="8"/>
<path d="M62,785 L330,938" stroke-width="7"/>
<path d="M200,1082 L328,1150" stroke-width="7"/>
<!-- left post -->
<ellipse cx="480" cy="244" rx="44" ry="24"/>
<ellipse cx="480" cy="244" rx="15" ry="9" stroke-width="7"/>
<path d="M437,252 L430,440 M523,252 L535,430"/>
<path d="M420,445 Q425,488 480,488 Q535,482 542,438"/>
<path d="M370,385 L385,402 L430,405 M370,382 L420,330 M385,395 L425,345" stroke-width="7"/>
<!-- right post -->
<ellipse cx="780" cy="72" rx="44" ry="24"/>
<ellipse cx="780" cy="72" rx="15" ry="9" stroke-width="7"/>
<path d="M742,82 L760,360 M822,78 L835,392"/>
<path d="M770,110 L772,345" stroke-width="6" stroke-dasharray="40 12"/>
<path d="M500,230 L748,78 M510,246 L762,92 M505,238 L755,85" stroke-width="6"/>
<!-- top arch -->
<path d="M530,412 Q620,345 760,345 L820,400"/>
<path d="M455,600 Q520,450 640,400 Q720,380 810,400" stroke-width="8"/>
<path d="M470,605 Q525,480 650,425" stroke-width="6"/>
<path d="M520,580 L810,410" stroke-width="6" stroke-dasharray="30 15"/>
<!-- frame top face far edge and box -->
<path d="M820,400 L1600,830" stroke-width="8"/>
<path d="M920,435 L1035,380 Q1060,375 1090,385 L1180,440 Q1228,490 1230,625" stroke-width="9"/>
<path d="M950,455 L1055,395 M1040,500 L1140,440" stroke-width="7"/>
<path d="M1240,640 L1600,840" stroke-width="8"/>
<ellipse cx="800" cy="552" rx="14" ry="9" stroke-width="7"/>
<!-- top slot U -->
<path d="M1000,730 L745,592 Q700,568 600,565 Q500,575 482,650 Q488,700 560,742 L1050,1010" stroke-width="9"/>
<path d="M745,602 Q700,588 600,590 Q510,600 498,660" stroke-width="7"/>
<path d="M640,595 L640,655 L675,675 L675,600 M655,598 L660,665" stroke-width="7"/>
<path d="M950,740 L955,830 L1010,810 L1010,770 L950,740" stroke-width="8"/>
<path d="M670,690 L955,830" stroke-width="7" stroke-dasharray="30 14"/>
<!-- near top edge -->
<path d="M400,655 L470,612 M400,655 L395,700 M400,660 L1600,1330" stroke-width="8"/>
<path d="M430,705 L1600,1370" stroke-width="7" stroke-dasharray="60 15 10 15"/>
<path d="M640,860 L1600,1400" stroke-width="8" stroke-dasharray="50 18"/>
<path d="M650,930 L1600,1460" stroke-width="9"/>
<path d="M620,1100 L1600,1640" stroke-width="8" stroke-dasharray="55 20"/>
<path d="M620,1330 L1600,1880" stroke-width="9"/>
<path d="M1050,780 L1600,1080" stroke-width="8" stroke-dasharray="60 18"/>
<path d="M1050,800 L1600,1100" stroke-width="7"/>
<path d="M1165,860 L1170,965 L1600,1200" stroke-width="8"/>
<path d="M1240,650 L1600,855" stroke-width="6" stroke-dasharray="40 20"/>
<path d="M1000,730 L1600,1060" stroke-width="6" stroke-dasharray="40 20"/>
<!-- front end plate arch -->
<path d="M335,1190 L340,790 Q350,752 400,745 L470,748 Q548,790 578,850 L598,930 L600,1322 L560,1322 L555,950 Q545,860 500,812 Q470,790 430,790" stroke-width="9"/>
<path d="M640,930 Q610,1000 600,1100" stroke-width="9"/>
<path d="M485,755 L640,930 M600,1100 L620,1100" stroke-width="7"/>
<path d="M578,850 L640,930" stroke-width="7"/>
<path d="M330,1190 L350,1195 L400,1170 L405,1082 Q395,1065 370,1075 L355,1092 L350,1190" stroke-width="8"/>
<path d="M405,1082 L490,1122 Q545,1160 550,1200 L555,1310" stroke-width="8"/>
<ellipse cx="455" cy="880" rx="19" ry="25" stroke-width="8"/>
<path d="M440,888 L280,975 M240,995 L215,1010 M180,1030 L5,1135" stroke-width="6"/>
<path d="M335,940 L335,1190" stroke-width="6" stroke-dasharray="40 15"/>
</g>

<!-- t12.svg -->
<g transform="translate(600,480) scale(0.25)" stroke-width="9">
<!-- long lines continuing -->
<path d="M360,45 L1055,448"/>
<path d="M360,285 L770,512 Q815,540 800,592 Q770,640 700,655 Q620,660 560,640 L330,520" stroke-width="9"/>
<path d="M360,330 L760,555" stroke-width="7" stroke-dasharray="40 16"/>
<path d="M360,370 L720,570" stroke-width="7" stroke-dasharray="50 18"/>
<path d="M360,440 L540,540" stroke-width="8"/>
<path d="M180,430 L350,530 M200,590 L330,660" stroke-width="8"/>
<!-- small boss at slot end -->
<ellipse cx="395" cy="598" rx="25" ry="18" stroke-width="7"/>
<path d="M350,620 L360,580 Q370,560 380,565 M420,610 L460,605 L560,660 L620,700 L640,720" stroke-width="7"/>
<!-- right end plate top arc -->
<path d="M740,645 Q850,520 1000,472" stroke-width="9"/>
<path d="M620,720 L700,690 L740,645 M700,690 Q690,760 640,820" stroke-width="7"/>
<!-- arch 2 -->
<path d="M300,1085 L303,700 Q315,665 355,660 L440,650 Q520,660 570,720 Q610,770 615,830 L590,1000 L590,1220 L545,1225 L525,1210 L520,1120 Q510,1050 450,1010 L365,975" stroke-width="9"/>
<path d="M470,690 Q535,735 550,830 L545,1215 M585,830 L578,1215" stroke-width="7"/>
<path d="M300,1085 L320,1090 L365,1070 L365,975 Q355,960 335,970 L320,990 L318,1085" stroke-width="8"/>
<ellipse cx="420" cy="775" rx="19" ry="27" transform="rotate(-15 420 775)" stroke-width="8"/>
<path d="M400,792 L250,872 M205,895 L188,905 M140,930 L0,1010" stroke-width="6"/>
<path d="M295,800 L295,1080" stroke-width="6" stroke-dasharray="40 15"/>
<path d="M0,650 L300,830 M0,885 L290,1040 M110,720 L300,830" stroke-width="7"/>
<!-- frame side bottom -->
<path d="M595,1000 L925,1190 L925,1400 L590,1220" stroke-width="9"/>
<!-- box behind -->
<path d="M890,330 L990,275 Q1010,268 1030,280 L1120,330 Q1160,358 1172,385" stroke-width="8"/>
<path d="M920,350 L1020,295 M1020,400 L1110,345 M880,340 L1060,440" stroke-width="7"/>
<!-- center dash-dot -->
<path d="M410,0 L410,20 M410,1045 L410,1200 M410,1225 L410,1235 M410,1260 L410,1480" stroke-width="6"/>
<!-- housing 2 lower lines at top right -->
<path d="M1180,335 L1380,220" stroke-width="6"/>
<path d="M1520,150 L1600,100" stroke-width="6"/>
</g>

<!-- t20.svg -->
<g transform="translate(800,0) scale(0.25)" stroke-width="9">
<!-- bolt 16 -->
<path d="M1172,368 Q1185,338 1222,326 Q1262,330 1274,372 Q1278,408 1240,428 Q1218,435 1205,418"/>
<ellipse cx="1198" cy="393" rx="22" ry="32" transform="rotate(-25 1198 393)" stroke-width="7"/>
<path d="M1180,378 L888,545 M1210,425 L915,590"/>
<ellipse cx="900" cy="568" rx="17" ry="25" transform="rotate(-25 900 568)"/>
<!-- leaders -->
<path d="M1120,478 L1450,600 M805,678 L1185,795" stroke-width="10"/>
<!-- washer 17 -->
<ellipse cx="750" cy="650" rx="45" ry="60" transform="rotate(-25 750 650)"/>
<ellipse cx="745" cy="652" rx="17" ry="25" transform="rotate(-25 745 652)" stroke-width="7"/>
<!-- dash dot -->
<path d="M880,578 L795,625 M710,675 L590,745 M540,772 L530,778 M495,800 L340,885 M285,915 L275,920 M240,940 L90,1030" stroke-width="6"/>
<!-- bolt 3b -->
<path d="M1178,1290 L1185,1265 L1220,1250 L1260,1258 L1270,1280 L1262,1305 L1225,1315 L1180,1308 Z M1178,1290 L1205,1298 L1262,1285 M1205,1298 L1205,1312 M1240,1292 L1240,1312"/>
<path d="M1198,1315 L1198,1390 Q1222,1402 1248,1390 L1248,1315"/>
<path d="M1270,1270 L1545,1160 M1285,1525 L1575,1390" stroke-width="10"/>
<path d="M1222,1425 L1222,1500 M1222,1515 L1222,1522" stroke-width="6"/>
<!-- washer 4b -->
<ellipse cx="1220" cy="1524" rx="60" ry="36"/>
<path d="M1160,1528 Q1168,1564 1220,1564 Q1275,1564 1282,1528"/>
<ellipse cx="1220" cy="1526" rx="17" ry="9" stroke-width="7"/>
</g>

<!-- t21.svg -->
<g transform="translate(700,200) scale(0.25)" stroke-width="8">
<!-- top bar lines from left -->
<path d="M-60,125 L130,228 M-40,190 L60,245 M-40,225 L30,262" stroke-width="7"/>
<!-- left boss round -->
<path d="M130,228 L200,190 Q280,172 360,190 Q470,230 530,310 Q560,360 562,470"/>
<path d="M380,420 Q430,380 480,385 Q530,395 545,440 L548,470" stroke-width="7"/>
<path d="M440,330 Q500,345 540,400" stroke-width="6"/>
<path d="M495,410 Q515,390 540,410 Q555,440 535,455" stroke-width="6"/>
<!-- left boss ring -->
<path d="M10,340 L200,222 Q215,216 232,225 L372,295 Q395,312 380,332 L175,445 L160,452 Z"/>
<path d="M-55,335 L196,198 Q212,192 230,200 M-55,335 L-20,330 L10,340 M-16,330 L204,218" stroke-width="7"/>
<path d="M38,360 L222,248 L356,306 Q372,318 358,330 L185,428 Z" stroke-width="6"/>
<path d="M10,340 L20,370 L160,452 M175,445 L225,492 L242,505 L385,425 L380,332" stroke-width="7"/>
<path d="M-20,505 L90,455 M-60,525 L-20,505" stroke-width="5"/>
<ellipse cx="95" cy="462" rx="18" ry="26" stroke-width="6"/>
<!-- long bar -->
<path d="M385,420 L978,718"/>
<path d="M165,530 L1160,1065" stroke-width="11"/>
<path d="M165,530 L245,500 M175,548 L1130,1080 L1170,1075 L1168,1060"/>
<!-- left notch -->
<path d="M15,805 L25,800 L27,625 Q32,615 42,620 L160,685 Q170,695 170,705 L175,890 L232,922" stroke-width="8"/>
<path d="M12,850 L12,1140" stroke-width="6"/>
<!-- rib 1 -->
<path d="M215,580 L228,680 Q245,720 245,760 L245,962" stroke-width="12"/>
<path d="M268,595 L270,955"/>
<path d="M270,955 L590,1130"/>
<!-- ribs group -->
<path d="M575,785 L580,860 Q598,900 600,940 L602,1170" stroke-width="11"/>
<path d="M625,810 L632,1180 M660,830 Q668,880 672,930 L680,1212 M700,850 L705,1222" stroke-width="9"/>
<path d="M720,862 Q745,920 748,960 L755,1255 M778,890 L790,1250" stroke-width="9"/>
<path d="M645,820 L650,900 Q665,920 668,960 L668,1200" stroke-width="6"/>
<path d="M870,960 L875,1290 M930,990 L935,1140 M955,1000 L960,1140" stroke-width="6"/>
<path d="M602,1170 L625,1165 L660,1195 L690,1210 L755,1255 L790,1250 L880,1295" stroke-width="7"/>
<path d="M890,1135 L995,1190 L1000,1395 L890,1330 Z" stroke-width="7"/>
<path d="M1005,1320 L1045,1305 L1045,1395 M1000,1395 L1105,1455" stroke-width="6"/>
<path d="M1078,1080 L1085,1150 Q1100,1190 1100,1230 L1105,1455" stroke-width="12"/>
<path d="M1135,1092 L1140,1480 L1225,1500" stroke-width="8"/>
<!-- cup -->
<ellipse cx="1072" cy="843" rx="215" ry="128" transform="rotate(4 1072 843)"/>
<ellipse cx="1075" cy="842" rx="200" ry="112" transform="rotate(4 1075 842)" stroke-width="7"/>
<ellipse cx="1082" cy="845" rx="185" ry="98" transform="rotate(4 1082 845)" stroke-width="6"/>
<path d="M968,775 L970,930 M985,770 Q1060,780 1098,850 L1100,930" stroke-width="8"/>
<path d="M950,780 L950,920 M1190,760 L1195,905 M1215,765 L1218,905" stroke-width="6"/>
<path d="M1250,930 L1330,925 L1360,910" stroke-width="6"/>
</g>

<!-- t22.svg -->
<g transform="translate(950,380) scale(0.1875)" stroke-width="11">
<!-- ring -->
<path d="M205,420 L545,245 Q570,232 595,245 L770,340 Q798,362 785,402 L520,550 L490,575"/>
<path d="M300,440 L555,287 Q570,282 585,290 L765,382 Q778,392 765,405 L530,535" stroke-width="9"/>
<path d="M320,458 L560,308 L760,410" stroke-width="7"/>
<path d="M205,420 L235,412 L300,440 L330,490 L490,575 L520,560 L585,625 L600,650 L830,520" stroke-width="9"/>
<!-- round boss -->
<path d="M540,232 Q640,205 750,232 Q900,290 990,400 Q1030,470 1025,600" />
<path d="M800,525 Q870,495 950,510 Q1010,550 1010,600" stroke-width="8"/>
<path d="M850,450 Q930,390 985,445 Q1005,475 1005,500" stroke-width="7"/>
<path d="M925,520 Q950,490 985,520 Q995,545 975,565" stroke-width="7"/>
<!-- slot -->
<path d="M730,582 L800,545 L940,612 L872,655 Z" stroke-width="9"/>
<path d="M755,590 L810,562 L900,605 M810,562 L812,612 M830,555 L832,620" stroke-width="7"/>
<!-- right box -->
<path d="M860,525 L1320,800 Q1420,828 1432,920 L1442,1255 L1130,1442 L1090,1440 L940,1412 L645,1255"/>
<path d="M1075,925 L1290,812 Q1330,840 1336,900 M1120,1020 L1350,900 Q1395,890 1412,935 L1420,1255" stroke-width="8"/>
<path d="M1075,925 Q1110,960 1115,1020 L1125,1440 M1090,965 L1100,1440" stroke-width="8"/>
<path d="M500,675 L945,948" stroke-width="13"/>
<path d="M505,695 L940,960" stroke-width="7"/>
<path d="M945,948 Q955,905 1005,902 Q1055,912 1075,925" stroke-width="9"/>
<path d="M970,940 Q990,920 1020,925 Q1050,935 1075,960" stroke-width="7"/>
<path d="M500,675 L600,640" stroke-width="8"/>
<path d="M570,750 L575,830 Q600,880 605,940 L615,1262" stroke-width="14"/>
<path d="M655,795 L658,1255"/>
<!-- cut slot -->
<path d="M300,1042 L305,798 Q310,785 325,790 L480,880 Q500,895 500,920 L505,1165 L605,1218" stroke-width="10"/>
<path d="M150,990 L300,1045" stroke-width="9"/>
<!-- left section -->
<path d="M100,480 L105,540 Q135,590 138,640 L150,992" stroke-width="15"/>
<path d="M180,500 L190,995 M55,445 L68,900" stroke-width="8"/>
<path d="M0,385 L160,470 L175,500 L235,462 L230,430" stroke-width="12"/>
<ellipse cx="400" cy="585" rx="24" ry="36" transform="rotate(-15 400 585)" stroke-width="9"/>
<path d="M150,730 L380,600" stroke-width="7"/>
<path d="M0,795 L60,782 M0,870 L130,940" stroke-width="8"/>
<!-- center line -->
<path d="M828,115 L828,285 M828,310 L828,322 M828,345 L828,565 M828,1435 L828,1620" stroke-width="7"/>
<path d="M1420,0 L1262,85 M1215,110 L1192,123 M1140,155 L925,280" stroke-width="8"/>
</g>

<!-- t30.svg -->
<g transform="translate(1200,200) scale(0.25)" stroke-width="9">
<path d="M778,262 Q790,235 835,222 Q875,228 882,275 Q885,305 840,330 Q822,335 815,320"/>
<ellipse cx="805" cy="290" rx="22" ry="32" transform="rotate(-25 805 290)" stroke-width="7"/>
<path d="M785,272 L495,440 M815,320 L520,485"/>
<ellipse cx="505" cy="462" rx="16" ry="24" transform="rotate(-25 505 462)"/>
<path d="M490,475 L405,520 M330,565 L195,640 M160,662 L148,668 M105,695 L-40,775" stroke-width="6"/>
<ellipse cx="355" cy="548" rx="44" ry="58" transform="rotate(-25 355 548)"/>
<ellipse cx="350" cy="550" rx="16" ry="23" transform="rotate(-25 350 550)" stroke-width="7"/>
<path d="M675,395 L980,545 M405,585 L710,745" stroke-width="10"/>
</g>

</g>
<line x1="4" y1="2121" x2="1600" y2="2121" stroke="#f6c8f0" stroke-width="1.5" stroke-dasharray="1.5 2.5"/>
</svg></body></html>
